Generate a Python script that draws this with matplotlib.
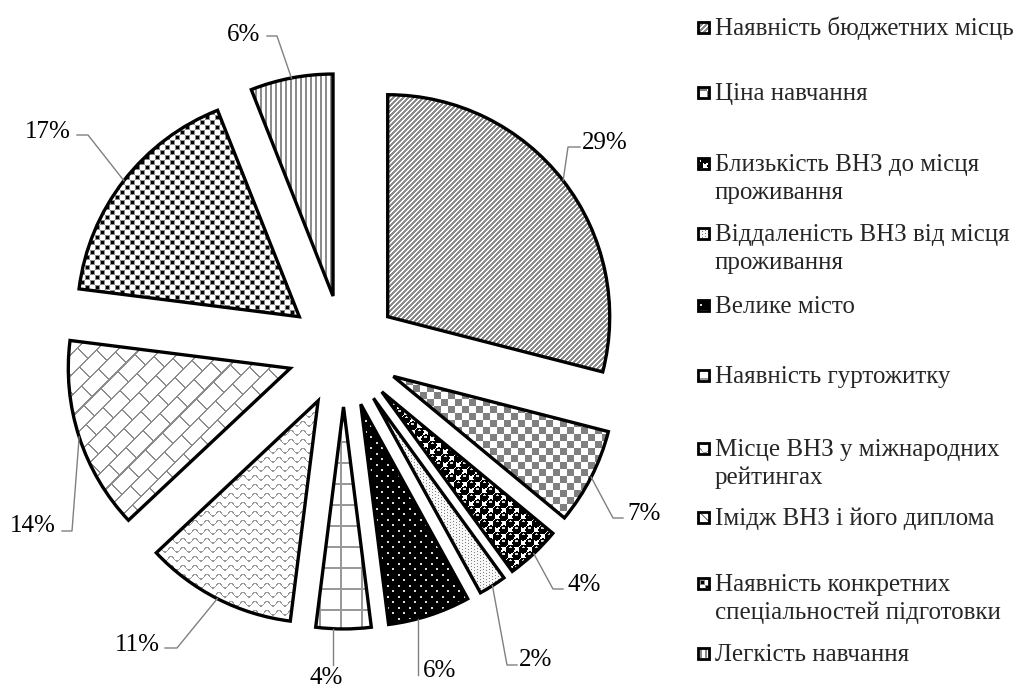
import numpy as np
import matplotlib.pyplot as plt
from matplotlib.patches import Rectangle

plt.rcParams["font.family"] = ["Liberation Serif", "DejaVu Serif"]

# data, clockwise from 12 o'clock
categories = [
    "Наявність бюджетних місць",
    "Ціна навчання",
    "Близькість ВНЗ до місця\nпроживання",
    "Віддаленість ВНЗ від місця\nпроживання",
    "Велике місто",
    "Наявність гуртожитку",
    "Місце ВНЗ у міжнародних\nрейтингах",
    "Імідж ВНЗ і його диплома",
    "Наявність конкретних\nспеціальностей підготовки",
    "Легкість навчання",
]
shares = [29, 7, 4, 2, 6, 4, 11, 14, 17, 6]
pct_text = [f"{v}%" for v in shares]

W, H = 1017, 689
fig = plt.figure(figsize=(W / 100, H / 100), dpi=100)
ax = fig.add_axes([0, 0, 1, 1])


def fy(y):
    # picture rows (down) -> axes units (up)
    return H - y


R = 222
cx, cy = 343.5, fy(351)
wedges, _ = ax.pie(shares, radius=R, center=(cx, cy),
                   explode=[0.252 * R] * len(shares),
                   startangle=90, counterclock=False, frame=True,
                   wedgeprops=dict(facecolor="none", edgecolor="black",
                                   linewidth=2.4, zorder=3))
ax.set_xlim(0, W)
ax.set_ylim(0, H)


# fill patterns (X right, Y down, in pixels)
def tex_diag(X, Y):
    return np.where(np.mod(X + Y, 5) < 2.4, 0.55, 1.0)


def tex_checker(X, Y):
    return np.where((np.floor(X / 7) + np.floor(Y / 7)) % 2 == 0, 0.5, 1.0)


def _rot_lattice(X, Y, c):
    a = X / c - 0.5
    b = Y / c - 0.5
    u = np.round((a + b) / 2)
    v = np.round((a - b) / 2)
    return c * (u + v + 0.5), c * (u - v + 0.5)


def tex_spheres(X, Y):
    px, py = _rot_lattice(X, Y, 6.5)
    d = np.hypot(X - px, Y - py)
    out = np.where(d < 4.4, 0.0, 1.0)
    hl = np.hypot((X - px) / 1.6, Y - (py - 1.8)) < 1.0
    return np.where(hl, 0.85, out)


def tex_stipple(X, Y):
    dots = (np.mod(X, 3) < 1) & (np.mod(Y + np.floor(X / 3) % 2, 3) < 1)
    return np.where(dots, 0.5, 0.97)


def tex_black_dots(X, Y):
    px, py = _rot_lattice(X, Y, 5.5)
    d = np.hypot(X - px, Y - py)
    return np.where(d < 1.2, 0.85, 0.0)


def tex_grid(X, Y):
    return np.where((np.mod(X - 4, 21) < 2) | (np.mod(Y, 21) < 2), 0.6, 1.0)


def tex_wave(X, Y):
    yy = Y + 2.5 * np.sin(2 * np.pi * X / 12)
    return np.where(np.mod(yy, 9) < 1.6, 0.6, 1.0)


def tex_brick(X, Y):
    s = (X + Y) / np.sqrt(2)
    t = (X - Y) / np.sqrt(2)
    k = np.floor(s / 15)
    line = (np.mod(s, 15) < 1.5) | (np.mod(t + (k % 2) * 12, 24) < 1.5)
    return np.where(line, 0.55, 1.0)


def tex_squares(X, Y):
    px, py = _rot_lattice(X, Y, 5)
    d = np.maximum(np.abs(X - px), np.abs(Y - py))
    return np.where(d < 1.8, 0.0, np.where(d < 2.5, 0.55, 1.0))


def tex_vertical(X, Y):
    return np.where(np.mod(X, 5) < 2.2, 0.55, 1.0)


textures = [tex_diag, tex_checker, tex_spheres, tex_stipple, tex_black_dots,
            tex_grid, tex_wave, tex_brick, tex_squares, tex_vertical]


def paint(patch, tex, z=2):
    bb = patch.get_extents()
    x0, x1 = np.floor(bb.x0) - 1, np.ceil(bb.x1) + 1
    y0, y1 = np.floor(bb.y0) - 1, np.ceil(bb.y1) + 1
    X, Yu = np.meshgrid(np.arange(x0, x1) + 0.5, np.arange(y0, y1) + 0.5)
    im = ax.imshow(tex(X, H - Yu), cmap="gray", vmin=0, vmax=1,
                   origin="lower", extent=(x0, x1, y0, y1),
                   interpolation="nearest", zorder=z)
    im.set_clip_path(patch)


for w, tex in zip(wedges, textures):
    paint(w, tex)

# percentage labels with leader lines
pct_xy = [(582, 140), (627, 511), (567, 582), (519, 657), (423, 668),
          (310, 675), (115, 642), (10, 523), (25, 129), (227, 32)]
elbows = [[(580, 147), (568, 147)], [(623, 518), (613, 518)],
          [(563, 589), (553, 589)], [(517, 665), (507, 665)],
          [(418, 675)], [(333, 665)],
          [(165, 648), (177, 648)], [(62, 531), (72, 531)],
          [(77, 135), (88, 135)], [(267, 36), (277, 36)]]
vertical = [False, False, False, False, True, True, False, False, False, False]

for w, txt, (tx, ty), pts, vert in zip(wedges, pct_text, pct_xy, elbows, vertical):
    ax.text(tx, fy(ty + 9), txt, fontsize=18, color="black",
            ha="left", va="baseline", zorder=5)
    wx, wy = w.center
    if vert:
        ex = pts[-1][0]
        ey = wy - np.sqrt(w.r ** 2 - (ex - wx) ** 2)
    else:
        mid = np.deg2rad((w.theta1 + w.theta2) / 2)
        ex, ey = wx + w.r * np.cos(mid), wy + w.r * np.sin(mid)
    xs = [p[0] for p in pts] + [ex]
    ys = [fy(p[1]) for p in pts] + [ey]
    ax.plot(xs, ys, color="#808080", lw=1.0, zorder=4)

# legend on the right
leg_y = [27, 92, 163, 233, 305, 375, 448, 517, 583, 653]
for name, tex, y in zip(categories, textures, leg_y):
    box = Rectangle((698, fy(y) - 5.5), 10.5, 11, facecolor="none",
                    edgecolor="black", linewidth=2.0, zorder=3)
    ax.add_patch(box)
    paint(box, tex)
    for k, line in enumerate(name.split("\n")):
        ax.text(715, fy(y + 8 + 28 * k), line, fontsize=18, color="#262626",
                ha="left", va="baseline")

ax.set_xlim(0, W)
ax.set_ylim(0, H)
ax.set_aspect("auto")
ax.axis("off")
fig.savefig("out.png", dpi=100)
